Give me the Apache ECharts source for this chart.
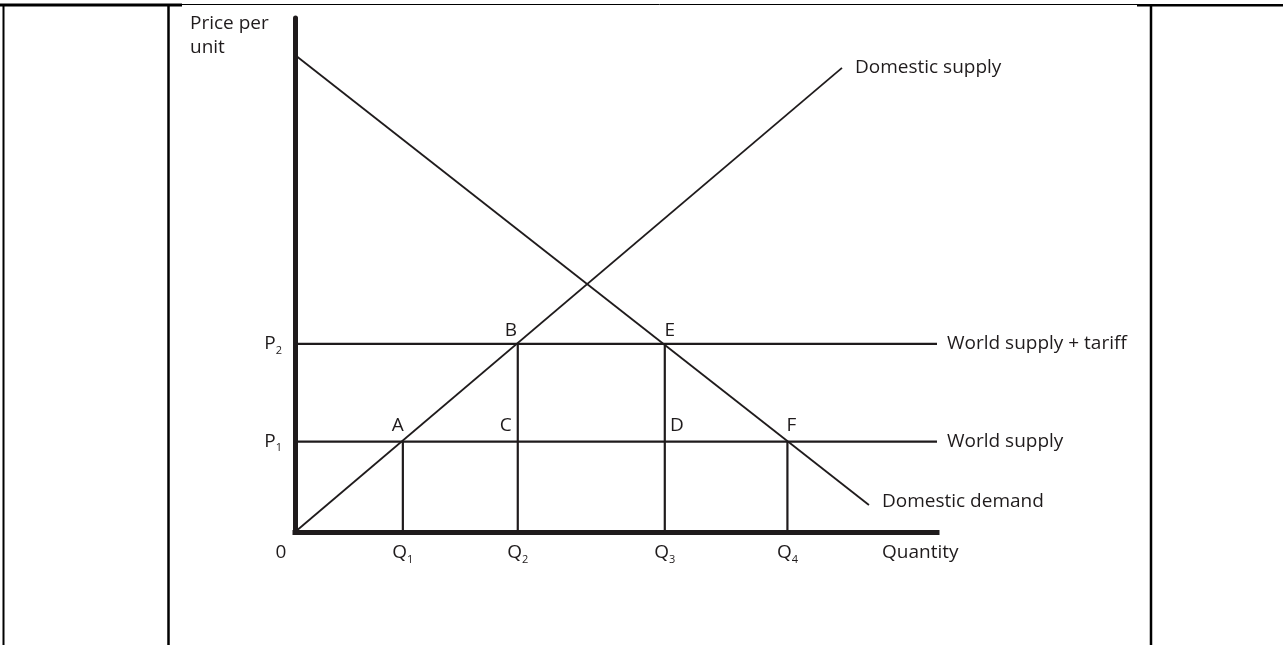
<!DOCTYPE html>
<html>
<head>
<meta charset="utf-8">
<script src="https://cdn.jsdelivr.net/npm/echarts@6/dist/echarts.min.js"></script>
<style>
html,body{margin:0;padding:0;background:#fff;}
#chart{width:1283px;height:645px;}
</style>
</head>
<body>
<div id="chart"></div>
<script>
// ---- data (axis units 0..100) ----
const qValues = [0, 16.8, 34.7, 57.6, 76.7];
const qLabels = ['0', 'Q|1', 'Q|2', 'Q|3', 'Q|4'];
const pValues = [17.6, 36.6];
const pLabels = ['P|1', 'P|2'];
const supplyX = [0, 85.2];
const supplyY = [0, 90.3];
const demandX = [0, 89.4];
const demandY = [92.8, 5.25];
const worldX = [0, 100];
const worldLevels = [17.6, 36.6];
const worldNames = ['World supply', 'World supply + tariff'];
const dropX = [16.8, 34.7, 57.6, 76.7];
const dropTop = [17.6, 36.6, 36.6, 17.6];
const pointNames = ['A', 'B', 'C', 'D', 'E', 'F'];
const pointX = [16.8, 34.7, 34.7, 57.6, 57.6, 76.7];
const pointY = [17.6, 36.6, 17.6, 17.6, 36.6, 17.6];

const INK = '#1f1b1c';
const FONT = 'Open Sans';
const FS = 19;
const pointOffsets = {A:[-5,0], B:[-7,2], C:[-12,0], D:[12,0], E:[5,2], F:[4,0]};

function richLabel(s) {
  if (s === '0') return '{z|0}';
  const parts = s.split('|');
  return '{m|' + parts[0] + '}{s|' + parts[1] + '}';
}
const richStyles = {
  m: {fontFamily: FONT, fontSize: FS, color: INK, lineHeight: 24},
  s: {fontFamily: FONT, fontSize: 11, color: INK, lineHeight: 9, verticalAlign: 'bottom', padding: [0, 0, 0, 0]},
  z: {fontFamily: FONT, fontSize: FS, color: INK, lineHeight: 24, padding: [0, 28, 0, 0]}
};

const series = [];
// domestic supply
series.push({
  type: 'line', name: 'Domestic supply', symbol: 'none',
  data: supplyX.map((x, i) => [x, supplyY[i]]),
  lineStyle: {color: INK, width: 1.8},
  endLabel: {show: true, formatter: 'Domestic supply', distance: 13, fontFamily: FONT, fontSize: FS, color: INK}
});
// domestic demand
series.push({
  type: 'line', name: 'Domestic demand', symbol: 'none',
  data: demandX.map((x, i) => [x, demandY[i]]),
  lineStyle: {color: INK, width: 1.8},
  endLabel: {show: true, formatter: 'Domestic demand', distance: 13, offset: [0, -3], fontFamily: FONT, fontSize: FS, color: INK}
});
// world supply lines
worldLevels.forEach((p, i) => {
  series.push({
    type: 'line', name: worldNames[i], symbol: 'none',
    data: worldX.map(x => [x, p]),
    lineStyle: {color: INK, width: 2.2},
    endLabel: {show: true, formatter: worldNames[i], distance: 10, fontFamily: FONT, fontSize: FS, color: INK}
  });
});
// vertical drop lines
dropX.forEach((q, i) => {
  series.push({
    type: 'line', symbol: 'none',
    data: [[q, dropTop[i]], [q, 0]],
    lineStyle: {color: INK, width: 2.2}
  });
});
// point labels
series.push({
  type: 'scatter', symbolSize: 0,
  itemStyle: {opacity: 1},
  data: pointNames.map((n, i) => ({
    value: [pointX[i], pointY[i]],
    name: n,
    label: {offset: pointOffsets[n]}
  })),
  label: {show: true, position: 'top', distance: 6, formatter: p => p.name, fontFamily: FONT, fontSize: FS, color: INK}
});

const chart = echarts.init(document.getElementById('chart'), null, {renderer: 'canvas'});
chart.setOption({
  animation: false,
  backgroundColor: '#ffffff',
  title: {
    text: 'Price per\nunit', left: 190, top: 12, padding: 0,
    textStyle: {fontFamily: FONT, fontSize: FS, fontWeight: 'normal', color: INK, lineHeight: 24}
  },
  grid: {left: 295, right: 346, top: 18, bottom: 113, containLabel: false},
  xAxis: {
    type: 'value', min: 0, max: 100, offset: 2,
    axisLine: {show: true, lineStyle: {color: INK, width: 5, cap: 'square'}},
    axisTick: {show: false}, splitLine: {show: false},
    axisLabel: {
      customValues: qValues, margin: 7,
      formatter: v => richLabel(qLabels[qValues.indexOf(v)]),
      rich: richStyles
    },
    name: 'Quantity', nameLocation: 'end', nameGap: -55,
    nameTextStyle: {fontFamily: FONT, fontSize: FS, color: INK, verticalAlign: 'top', lineHeight: 42}
  },
  yAxis: {
    type: 'value', min: 0, max: 100,
    axisLine: {show: true, lineStyle: {color: INK, width: 5}},
    axisTick: {show: false}, splitLine: {show: false},
    axisLabel: {
      customValues: pValues, margin: 13,
      formatter: v => richLabel(pLabels[pValues.indexOf(v)]),
      rich: richStyles
    }
  },
  graphic: [
    {type: 'line', shape: {x1: 3.5, y1: 4, x2: 3.5, y2: 645}, style: {stroke: '#000', lineWidth: 2}},
    {type: 'line', shape: {x1: 168.5, y1: 4, x2: 168.5, y2: 645}, style: {stroke: '#000', lineWidth: 2.5}},
    {type: 'line', shape: {x1: 1151, y1: 4, x2: 1151, y2: 645}, style: {stroke: '#000', lineWidth: 2.5}},
    {type: 'line', shape: {x1: 0, y1: 5, x2: 182, y2: 5}, style: {stroke: '#000', lineWidth: 3}},
    {type: 'line', shape: {x1: 182, y1: 4.5, x2: 1137, y2: 4.5}, style: {stroke: '#000', lineWidth: 1}},
    {type: 'line', shape: {x1: 1137, y1: 5.3, x2: 1283, y2: 5.3}, style: {stroke: '#000', lineWidth: 2.5}}
  ],
  series: series
});
</script>
</body>
</html>
